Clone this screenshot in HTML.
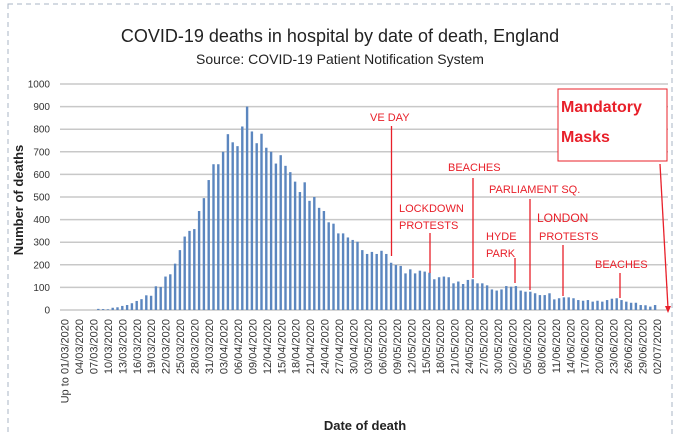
<!DOCTYPE html>
<html><head><meta charset="utf-8"><style>
body{margin:0;background:#fff;width:680px;height:434px;overflow:hidden;font-family:"Liberation Sans",sans-serif}
</style></head><body>
<svg id="s" width="680" height="434" xmlns="http://www.w3.org/2000/svg" font-family="Liberation Sans, sans-serif">
<rect x="8" y="4" width="664" height="432" fill="none" stroke="#a8b4c4" stroke-dasharray="5,4"/>
<text x="340" y="42" font-size="18" text-anchor="middle" fill="#222">COVID-19 deaths in hospital by date of death, England</text>
<text x="340" y="64" font-size="14" text-anchor="middle" fill="#222">Source: COVID-19 Patient Notification System</text>
<g id="grid" stroke="#c8c8c8" stroke-width="1.5"></g>
<g id="ylab" font-size="10" fill="#333" text-anchor="end"></g>
<text transform="translate(23,200) rotate(-90)" font-size="13" font-weight="bold" text-anchor="middle" fill="#222">Number of deaths</text>
<g id="bars" fill="#5b86bf"></g>
<g id="xlab" font-size="11" fill="#333"></g>
<text x="365" y="430" font-size="13" font-weight="bold" text-anchor="middle" fill="#222">Date of death</text>
<g fill="#e8202a" font-size="11" stroke="none">
<text x="370" y="121">VE DAY</text>
<text x="448" y="171">BEACHES</text>
<text x="399" y="212">LOCKDOWN</text>
<text x="399" y="229">PROTESTS</text>
<text x="486" y="240">HYDE</text>
<text x="486" y="257">PARK</text>
<text x="489" y="193">PARLIAMENT SQ.</text>
<text x="537" y="222" font-size="12">LONDON</text>
<text x="539" y="240">PROTESTS</text>
<text x="595" y="268">BEACHES</text>
</g>
<g stroke="#e8202a" stroke-width="1.3">
<line x1="391.5" y1="126" x2="391.5" y2="256"/>
<line x1="473" y1="178" x2="473" y2="278"/>
<line x1="430" y1="233" x2="430" y2="273"/>
<line x1="515" y1="258" x2="515" y2="283"/>
<line x1="530" y1="199" x2="530" y2="290"/>
<line x1="563" y1="245" x2="563" y2="296"/>
<line x1="620" y1="273" x2="620" y2="298"/>
<line x1="660" y1="164" x2="668" y2="308"/>
</g>
<path d="M665,306 L668,313 L671,306Z" fill="#e8202a"/>
<rect x="558" y="89" width="109" height="72" fill="#fff" stroke="#e8202a" stroke-width="1"/>
<text x="561" y="112" font-size="16" font-weight="bold" fill="#e8202a">Mandatory</text>
<text x="561" y="142" font-size="16" font-weight="bold" fill="#e8202a">Masks</text>
</svg>
<script>
var NS="http://www.w3.org/2000/svg";
function el(p,t,a,txt){var e=document.createElementNS(NS,t);for(var k in a)e.setAttribute(k,a[k]);if(txt)e.textContent=txt;document.getElementById(p).appendChild(e);return e;}
var y0=310,ppu=0.226;
for(var v=0;v<=1000;v+=100){var y=y0-v*ppu;el("grid","line",{x1:60,x2:668,y1:y,y2:y});el("ylab","text",{x:50,y:y+3.5},""+v);}
var vals=[5,4,3,10,12,18,22,30,40,48,65,63,105,102,148,158,205,265,325,350,358,438,495,575,645,645,700,778,742,725,812,900,790,738,780,718,700,648,685,638,610,568,522,565,483,500,452,438,388,382,339,339,321,310,302,265,248,257,248,262,248,209,199,195,162,180,162,174,170,165,136,145,148,145,118,126,115,133,136,118,118,109,91,86,91,106,103,106,86,81,81,74,66,66,74,47,52,56,56,52,44,41,44,37,41,37,44,50,52,44,37,32,32,22,21,15,22];
for(var i=0;i<vals.length;i++){var x=98.3+i*4.8;var h=vals[i]*ppu;el("bars","rect",{x:x-1.2,y:y0-h,width:2.4,height:h});}
for(var k=0;k<42;k++){var dd=new Date(2020,2,1+3*k);var s=("0"+dd.getDate()).slice(-2)+"/"+("0"+(dd.getMonth()+1)).slice(-2)+"/2020";if(k==0)s="Up to "+s;var x=68.5+k*14.45;el("xlab","text",{transform:"translate("+x+",319) rotate(-90)","text-anchor":"end"},s);}
</script>
</body></html>
